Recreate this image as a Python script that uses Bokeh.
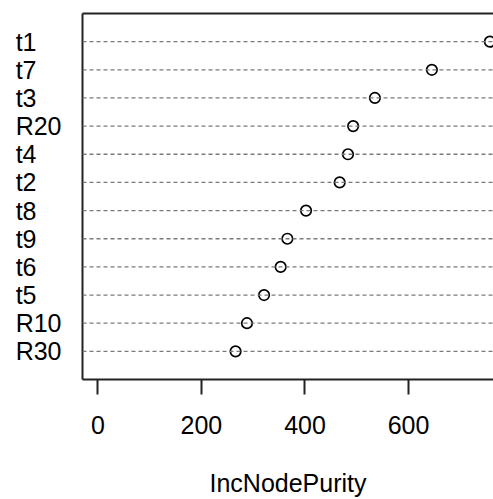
from bokeh.plotting import figure
from bokeh.models import Range1d, LinearAxis, FixedTicker, Span
from bokeh.embed import file_html
from bokeh.resources import INLINE

# ---- data ----
variables = ["t1", "t7", "t3", "R20", "t4", "t2", "t8", "t9", "t6", "t5", "R10", "R30"]
purity = [757, 645, 535, 493, 483, 467, 402, 366, 353, 321, 288, 266]
x_ticks = [0, 200, 400, 600]
x_title = "IncNodePurity"

n = len(variables)
rows = list(range(n, 0, -1))  # t1 at top
FONT = "Liberation Sans"
FS = "25px"

p = figure(width=493, height=499, output_backend="svg", toolbar_location=None,
           x_range=Range1d(-29.6, 764), y_range=Range1d(0, n + 1),
           x_axis_location=None, y_axis_location=None,
           min_border_left=82, min_border_right=0, min_border_top=13,
           min_border_bottom=120)
p.outline_line_color = None
p.xgrid.visible = False
p.ygrid.visible = False
p.background_fill_color = "white"
p.border_fill_color = "white"

# dotted guide lines
for r in rows:
    p.add_layout(Span(location=r, dimension="width", line_color="#7a7a7a",
                      line_width=1.3, line_dash="4 3"))

p.scatter(purity, rows, size=10.5, marker="circle", fill_color="white",
          line_color="black", line_width=1.7)

# bottom axis
xa = LinearAxis(ticker=FixedTicker(ticks=x_ticks), axis_label=x_title)
xa.axis_line_width = 2
xa.axis_line_color = "#222222"
xa.major_tick_in = 0
xa.major_tick_out = 15
xa.major_tick_line_width = 2
xa.major_tick_line_color = "#222222"
xa.minor_tick_line_color = None
xa.major_label_text_font = FONT
xa.major_label_text_font_size = FS
xa.major_label_text_color = "black"
xa.major_label_standoff = 21
xa.axis_label_text_font = FONT
xa.axis_label_text_font_size = FS
xa.axis_label_text_font_style = "normal"
xa.axis_label_text_color = "black"
xa.axis_label_standoff = 32
p.add_layout(xa, "below")

# left axis: box border + category labels (em space pads the short names so
# that all names start at the same x, as in the reference)
pad = {name: (name if len(name) == 3 else name + "\u2003") for name in variables}
ya = LinearAxis(ticker=FixedTicker(ticks=rows),
                major_label_overrides={r: pad[name] for r, name in zip(rows, variables)})
ya.axis_line_width = 2
ya.axis_line_color = "#222222"
ya.major_tick_out = 0
ya.major_tick_in = 0
ya.major_tick_line_color = None
ya.minor_tick_line_color = None
ya.major_label_text_font = FONT
ya.major_label_text_font_size = FS
ya.major_label_text_color = "black"
ya.major_label_standoff = 21
p.add_layout(ya, "left")

# top border
ta = LinearAxis(ticker=FixedTicker(ticks=[]))
ta.axis_line_width = 2
ta.axis_line_color = "#222222"
ta.major_tick_out = 0
ta.major_tick_in = 0
ta.minor_tick_line_color = None
p.add_layout(ta, "above")

open("out.html", "w").write(file_html(p, INLINE))
